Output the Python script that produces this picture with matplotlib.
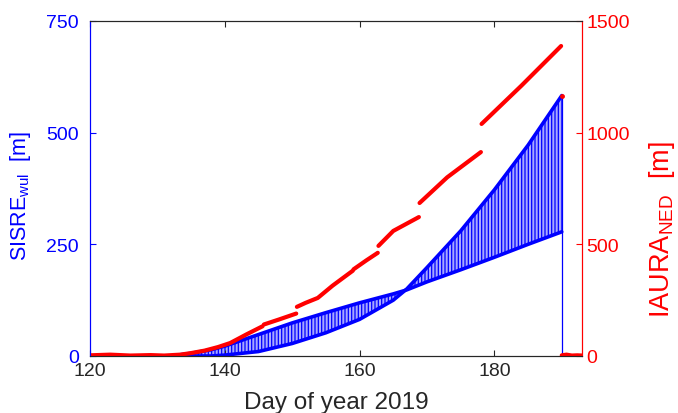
import numpy as np
import matplotlib
matplotlib.use("Agg")
import matplotlib.pyplot as plt

plt.rcParams['font.family'] = ['Liberation Sans', 'DejaVu Sans']
plt.rcParams['mathtext.default'] = 'regular'
plt.rcParams['hatch.color'] = 'blue'
plt.rcParams['hatch.linewidth'] = 0.9

# SISRE (worst user location): two envelopes the signal jumps between
sis_days = [132, 135, 138, 140, 145, 150, 155, 160, 165, 167, 170, 175, 180, 185, 190]
sis_a = [0, 6, 14, 22, 48, 74, 97, 119, 139, 148, 166, 193, 221, 250, 278]
sis_b = [0, 0, 0, 2, 10, 28, 52, 82, 125, 150, 198, 280, 372, 472, 583]
sis_start_days = [120, 132]
sis_start_vals = [0, 0]
sis_end_days = [190, 190, 193]
sis_end_vals = [583, 0, 0]

# IAURA NED, piecewise with jumps at each update
iaura_segments = [
    ([120, 123, 126, 129, 131, 133.4, 135, 137, 139, 140.8, 143.3, 145.6],
     [3, 6, 2, 4, 2, 6, 13, 24, 40, 58, 98, 133]),
    ([145.8, 148, 150.6], [141, 163, 190]),
    ([150.7, 152, 153.8, 156, 159], [220, 238, 260, 315, 382]),
    ([159.1, 161, 162.7], [388, 428, 462]),
    ([162.8, 165, 168.8], [493, 560, 622]),
    ([168.9, 173, 178], [685, 800, 913]),
    ([178.1, 184, 189.9], [1039, 1210, 1388]),
    ([190, 190.7, 191.5, 192.3, 193], [3, 6, 2, 3, 2]),
]
iaura_dot_day = [190]
iaura_dot_val = [1165]

x_ticks = [120, 140, 160, 180]
left_ticks = [0, 250, 500, 750]
right_ticks = [0, 500, 1000, 1500]

BLUE = (0, 0, 1)
RED = (1, 0, 0)
DARK = '#262626'

fig = plt.figure(figsize=(6.78, 4.14), dpi=100)
ax = fig.add_axes([0.1327, 0.1377, 0.7257, 0.8092])
ax2 = ax.twinx()

# blue zigzag band drawn as vertical hatching between envelopes
ax.fill_between(sis_days, sis_a, sis_b, facecolor='#a8a8ff', edgecolor=BLUE,
                hatch='|||||', linewidth=0)
ax.plot(sis_days, sis_a, color=BLUE, lw=2.6, solid_capstyle='round')
ax.plot(sis_days, sis_b, color=BLUE, lw=2.6, solid_capstyle='round')
ax.plot(sis_start_days, sis_start_vals, color=BLUE, lw=2.6)
ax.plot(sis_end_days, sis_end_vals, color=BLUE, lw=0.9)

for d, v in iaura_segments:
    ax2.plot(d, v, color=RED, lw=3, solid_capstyle='round')
ax2.plot(iaura_dot_day, iaura_dot_val, 'o', color=RED, ms=3.5, mec='none')

ax.set_xlim(120, 193)
ax.set_ylim(0, 750)
ax2.set_ylim(0, 1500)
ax.set_xticks(x_ticks)
ax.set_yticks(left_ticks)
ax2.set_yticks(right_ticks)

ax.tick_params(axis='x', direction='in', length=4, width=0.8, colors=DARK,
               labelsize=14, pad=4, top=True)
ax.tick_params(axis='y', direction='in', length=4, width=0.8, colors=BLUE,
               labelsize=14, pad=8, right=False)
ax2.tick_params(axis='y', direction='in', length=4, width=0.8, colors=RED,
                labelsize=14, pad=3, left=False)

for a in (ax, ax2):
    a.spines['top'].set_color(DARK)
    a.spines['bottom'].set_color(DARK)
    a.spines['left'].set_color(BLUE)
    a.spines['right'].set_color(RED)
    for s in a.spines.values():
        s.set_linewidth(0.8)

ax.set_xlabel('Day of year 2019', fontsize=17.5, color=DARK, labelpad=9)
ax.set_ylabel('SISRE$_{wul}$  [m]', fontsize=15.5, color=BLUE)
ax.yaxis.set_label_coords(-0.115, 0.48)
ax2.set_ylabel('IAURA$_{NED}$  [m]', fontsize=19.5, color=RED)
ax2.yaxis.set_label_coords(1.132, 0.379)

fig.savefig('out.png', dpi=100)
